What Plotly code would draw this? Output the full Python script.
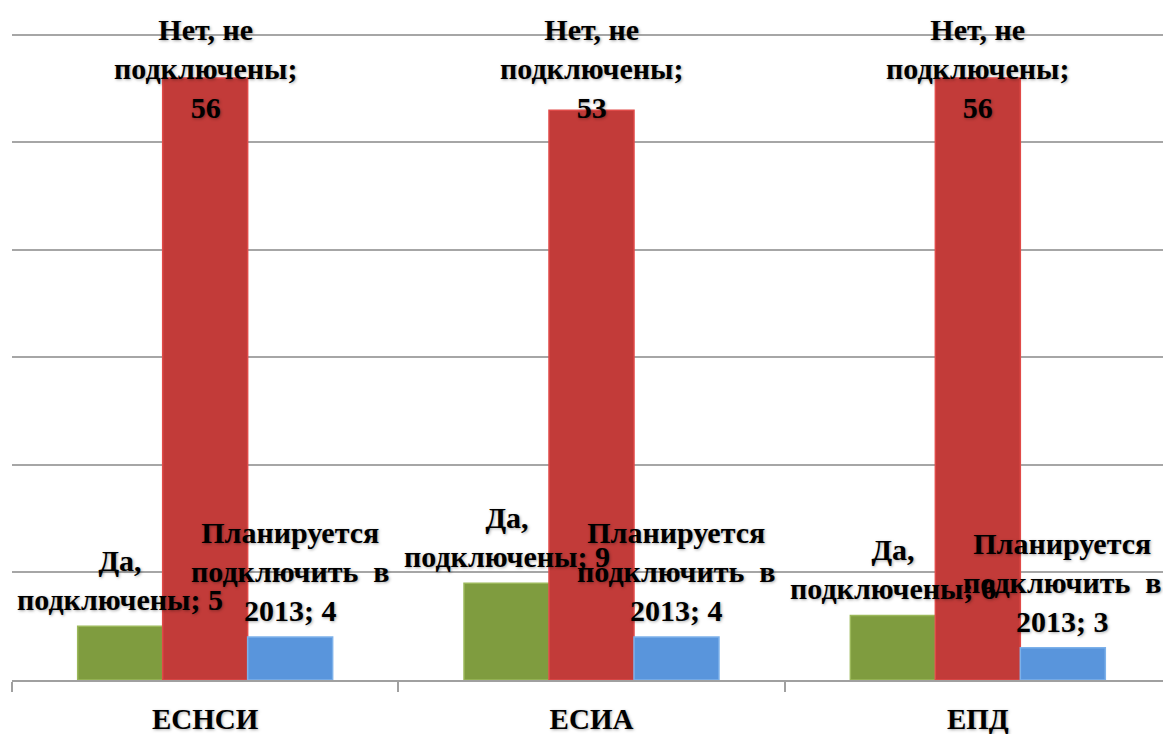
import plotly.graph_objects as go

categories = ["ЕСНСИ", "ЕСИА", "ЕПД"]
series_names = ["Да, подключены", "Нет, не подключены", "Планируется подключить в 2013"]
label_texts = ["Да,<br>подключены; {v}", "Нет, не<br>подключены;<br>{v}", "Планируется<br>подключить  в<br>2013; {v}"]
yes_values = [5, 9, 6]
no_values = [56, 53, 56]
planned_values = [4, 4, 3]

colors = ["#7f9c3f", "#c23b39", "#5995dc"]
line_colors = ["#9bb85a", "#e04a48", "#7db1ea"]

FONT = "Liberation Serif"
fig = go.Figure()
all_values = [yes_values, no_values, planned_values]
for name, vals, c, lc in zip(series_names, all_values, colors, line_colors):
    fig.add_trace(go.Bar(
        x=categories, y=vals, name=name,
        marker=dict(color=c, line=dict(color=lc, width=1.5)),
        hoverinfo="x+y+name",
    ))

bargap = 0.34
bw = (1 - bargap) / 3
label_font = dict(family=FONT, size=30, color="black", weight="bold",
                  shadow="1px 1px 3px rgba(0,0,0,0.35)")
annotations = []
for si, vals in enumerate(all_values):
    for ci, v in enumerate(vals):
        xpos = ci + (si - 1) * bw
        txt = label_texts[si].format(v=v)
        if si == 1:
            annotations.append(dict(
                x=xpos, xref="x", y=1, yref="paper", yanchor="top",
                yshift=-3, text=txt, showarrow=False,
                font=label_font, align="center",
            ))
        else:
            annotations.append(dict(
                x=xpos, xref="x", y=v, yref="y", yanchor="bottom",
                yshift=8, text=txt, showarrow=False,
                font=label_font, align="center",
            ))

fig.update_layout(
    width=1163, height=726,
    margin=dict(l=4, r=0, t=0, b=54),
    paper_bgcolor="white", plot_bgcolor="white",
    barmode="group", bargap=bargap, bargroupgap=0,
    showlegend=False,
    annotations=annotations,
    xaxis=dict(
        type="category", showline=True, linecolor="#a0a0a0", linewidth=1.5,
        ticks="outside", tickson="boundaries", ticklen=10, tickcolor="#a0a0a0",
        tickwidth=1.5, showgrid=False, ticklabelstandoff=12,
        tickfont=dict(family=FONT, size=29, color="black", weight="bold",
                      shadow="1px 1px 3px rgba(0,0,0,0.35)"),
    ),
    yaxis=dict(
        range=[0, 62.5], dtick=10, showgrid=True, gridcolor="#a6a6a6",
        gridwidth=1.5, showticklabels=False, zeroline=False, showline=False,
    ),
)

fig.write_html("out.html")
